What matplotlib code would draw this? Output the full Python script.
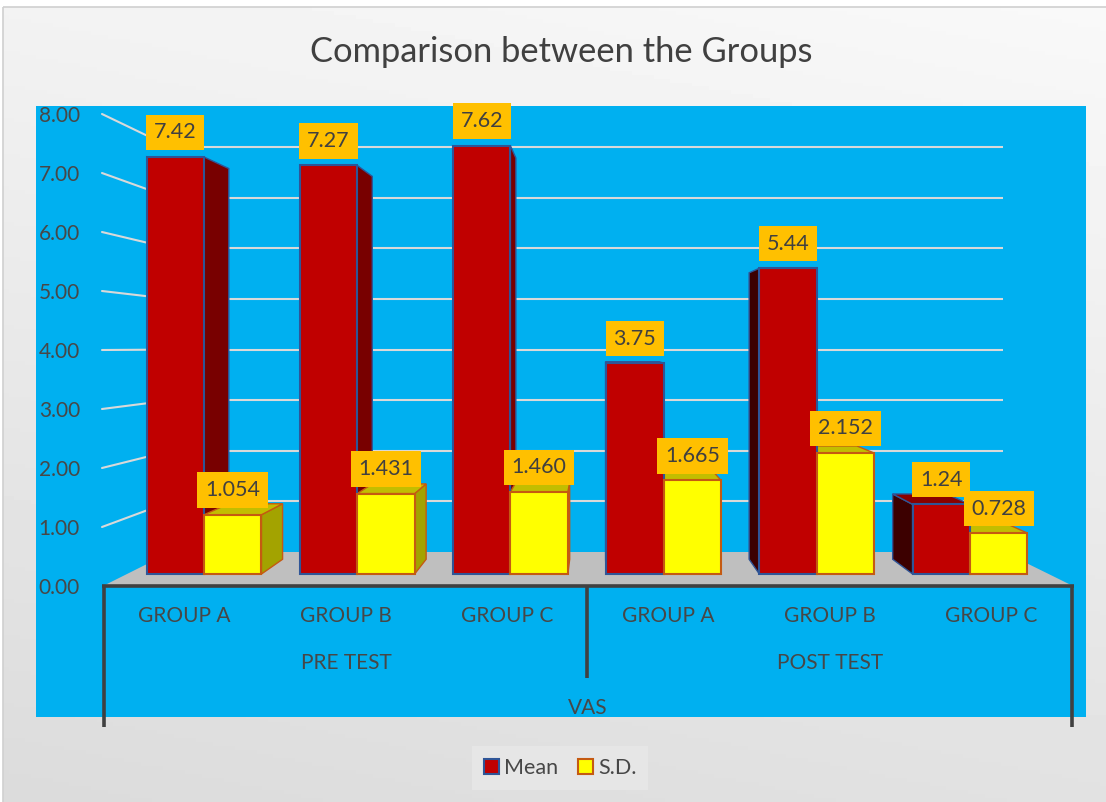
import numpy as np
import matplotlib
matplotlib.use('Agg')
import matplotlib.pyplot as plt
from matplotlib.patches import Polygon, Rectangle, ConnectionPatch

plt.rcParams['font.family'] = ['Lato', 'DejaVu Sans']

# data
groups = ['GROUP A', 'GROUP B', 'GROUP C', 'GROUP A', 'GROUP B', 'GROUP C']
phases = ['PRE TEST', 'POST TEST']
measure = 'VAS'
mean_vals = [7.42, 7.27, 7.62, 3.75, 5.44, 1.24]
sd_vals = [1.054, 1.431, 1.460, 1.665, 2.152, 0.728]
mean_text = ['7.42', '7.27', '7.62', '3.75', '5.44', '1.24']
sd_text = ['1.054', '1.431', '1.460', '1.665', '2.152', '0.728']
yticks = [0, 1, 2, 3, 4, 5, 6, 7, 8]

# layout in pixels
W, H = 1106, 802
P_LEFT, P_TOP, P_RIGHT, P_BOT = 36, 106, 1086, 717
X0, XSTEP = 204, 153.2          # x of category boundary, px per category
FRONT_BASE, FRONT_PX = 574, 56.2
WALL_BASE, WALL_PX = 552, 50.6
LAB_BASE, LAB_PX = 586, 59.0
BAR_W = 0.375
DEPTH = 0.063
TXT = '#474747'

def px_x(p):
    return (p - X0) / XSTEP

def ylims(base, scale):
    return ((base - P_BOT) / scale, (base - P_TOP) / scale)

fig = plt.figure(figsize=(W / 100, H / 100), dpi=100, facecolor='white')

# background layer in pixel units
ax_bg = fig.add_axes([0, 0, 1, 1])
ax_bg.set_xlim(0, W)
ax_bg.set_ylim(H, 0)
ax_bg.axis('off')
yy, xx = np.mgrid[0:1:200j, 0:1:200j]
shade = 0.975 - 0.09 * yy - 0.025 * (1 - xx)
ax_bg.imshow(shade, cmap='gray', vmin=0, vmax=1, extent=(3, W, H, 7),
             aspect='auto', zorder=0)
ax_bg.add_patch(Rectangle((3, 7), W, H, fill=False, ec='#D0D0D0', lw=1.2, zorder=1))
ax_bg.add_patch(Rectangle((P_LEFT, P_TOP), P_RIGHT - P_LEFT, P_BOT - P_TOP,
                          fc='#00B0F0', ec='none', zorder=2))
ax_bg.add_patch(Polygon([(103, 586), (1073, 586), (1004, 552), (171, 552)],
                        closed=True, fc='#BFBFBF', ec='none', zorder=3))
line_kw = dict(color='#404040', lw=2.6, solid_capstyle='butt', zorder=4)
ax_bg.plot([102, 1074], [586, 586], **line_kw)
ax_bg.plot([104, 104], [586, 727], **line_kw)
ax_bg.plot([587, 587], [586, 678], **line_kw)
ax_bg.plot([1072, 1072], [586, 727], **line_kw)

cat_w = (1072 - 104) / len(groups)
for i, g in enumerate(groups):
    ax_bg.text(104 + cat_w * (i + 0.5), 616, g, ha='center', va='center',
               fontsize=15, color=TXT, zorder=5)
for j, ph in enumerate(phases):
    ax_bg.text(104 + 3 * cat_w * (j + 0.5), 663, ph, ha='center', va='center',
               fontsize=15, color=TXT, zorder=5)
ax_bg.text(588, 708, measure, ha='center', va='center', fontsize=15, color=TXT, zorder=5)
ax_bg.text(561, 52, 'Comparison between the Groups', ha='center', va='center',
           fontsize=24.8, color='#404040', zorder=5)

rect = [P_LEFT / W, 1 - P_BOT / H, (P_RIGHT - P_LEFT) / W, (P_BOT - P_TOP) / H]
xlim = (px_x(P_LEFT), px_x(P_RIGHT))

# tick labels
ax_lab = fig.add_axes(rect)
ax_lab.set_xlim(*xlim)
ax_lab.set_ylim(*ylims(LAB_BASE, LAB_PX))
ax_lab.patch.set_visible(False)
for s in ax_lab.spines.values():
    s.set_visible(False)
ax_lab.set_xticks([])
ax_lab.set_yticks(yticks)
ax_lab.set_yticklabels([f'{v:.2f}' for v in yticks])
ax_lab.tick_params(axis='y', length=0, pad=-(80 - P_LEFT) * 0.72,
                   labelsize=15, labelcolor=TXT)

# back wall gridlines
ax_wall = fig.add_axes(rect)
ax_wall.set_xlim(*xlim)
ax_wall.set_ylim(*ylims(WALL_BASE, WALL_PX))
ax_wall.axis('off')
ax_wall.hlines(yticks[1:], px_x(171), px_x(1003), color='#D9D9D9', lw=1.5)
for v in yticks[1:]:
    con = ConnectionPatch(xyA=(px_x(102), v), coordsA=ax_lab.transData,
                          xyB=(px_x(171), v), coordsB=ax_wall.transData,
                          color='#D9D9D9', lw=1.5)
    ax_wall.add_artist(con)

# bars
ax = fig.add_axes(rect)
ax.set_xlim(*xlim)
ax.set_ylim(*ylims(FRONT_BASE, FRONT_PX))
ax.axis('off')

idx = np.arange(len(groups))
vp = np.array([px_x(597), (FRONT_BASE - 340) / FRONT_PX])

def faces(x0, x1, h, side_r, side_l, top, ec, z):
    def back(p):
        p = np.array(p, dtype=float)
        return tuple(p + DEPTH * (vp - p))
    if x1 < vp[0]:
        pts = [(x1, 0), (x1, h), back((x1, h)), back((x1, 0))]
        ax.add_patch(Polygon(pts, closed=True, fc=side_r, ec=ec, lw=1.0, zorder=z))
    elif x0 > vp[0]:
        pts = [(x0, 0), (x0, h), back((x0, h)), back((x0, 0))]
        ax.add_patch(Polygon(pts, closed=True, fc=side_l, ec=ec, lw=1.0, zorder=z))
    if h < vp[1]:
        pts = [(x0, h), (x1, h), back((x1, h)), back((x0, h))]
        ax.add_patch(Polygon(pts, closed=True, fc=top, ec=ec, lw=1.0, zorder=z))

for i in idx:
    faces(i - BAR_W, i, mean_vals[i], '#780000', '#3C0000', '#8A0000', '#2F5597', 1.2)
for i in idx:
    faces(i, i + BAR_W, sd_vals[i], '#A3A300', '#A3A300', '#C2BE00', '#C55A11', 1.5)

b_mean = ax.bar(idx - BAR_W, mean_vals, width=BAR_W, align='edge', color='#C00000',
                edgecolor='#2F5597', lw=1.5, zorder=2, label='Mean')
b_sd = ax.bar(idx, sd_vals, width=BAR_W, align='edge', color='#FFFF00',
              edgecolor='#C55A11', lw=1.5, zorder=2, label='S.D.')

box = dict(boxstyle='square,pad=0.36', fc='#FFC000', ec='none')
for i in idx:
    ax.annotate(mean_text[i], (i - BAR_W / 2, mean_vals[i]), xytext=(0, 10.5),
                textcoords='offset points', ha='center', va='bottom',
                fontsize=15.5, color='#404040', bbox=box, zorder=5)
    ax.annotate(sd_text[i], (i + BAR_W / 2, sd_vals[i]), xytext=(0, 10.5),
                textcoords='offset points', ha='center', va='bottom',
                fontsize=15.5, color='#404040', bbox=box, zorder=5)

leg = fig.legend(handles=[b_mean, b_sd], loc='center', ncol=2,
                 bbox_to_anchor=(560 / W, 1 - 768 / H), fontsize=15.5,
                 frameon=True, fancybox=False, handlelength=0.7, handleheight=0.7,
                 handletextpad=0.25, columnspacing=0.9, borderpad=0.55)
leg.get_frame().set_facecolor('#E8E8E8')
leg.get_frame().set_edgecolor('none')
for t in leg.get_texts():
    t.set_color(TXT)

fig.savefig('out.png', dpi=100, facecolor='white')
